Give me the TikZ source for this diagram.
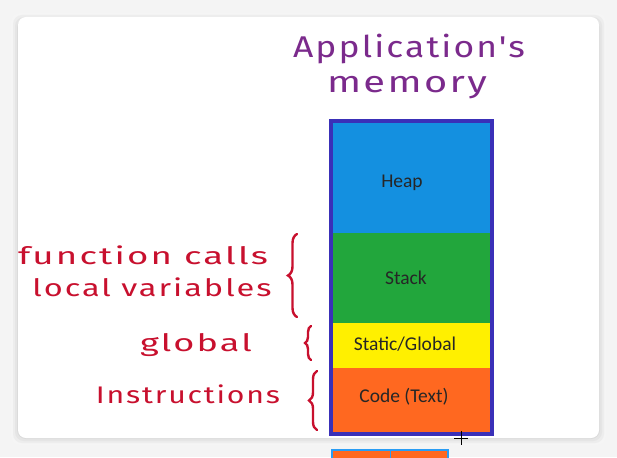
\documentclass[tikz,border=0pt]{standalone}
\usepackage{fontspec}
\usepackage{graphicx}
\setmainfont{Carlito}
\newfontfamily\hand[LetterSpace=6]{Fira Sans}
\usetikzlibrary{decorations.pathreplacing}
\definecolor{bgcol}{HTML}{F4F4F4}
\definecolor{framecol}{HTML}{3A30B8}
\definecolor{heapcol}{HTML}{1490E0}
\definecolor{stackcol}{HTML}{22A63C}
\definecolor{staticcol}{HTML}{FFF000}
\definecolor{codecol}{HTML}{FF6820}
\definecolor{purplehand}{HTML}{7B2A8C}
\definecolor{redhand}{HTML}{C8102E}
\definecolor{stripblue}{HTML}{2A9DF4}
\newcommand{\fitw}[2]{\resizebox{#1}{\height}{#2}}
\tikzset{
  seglabel/.style={font=\fontsize{19.5}{22}\selectfont, text=black!85, inner sep=0pt},
  titlehand/.style={font=\hand\fontsize{30}{34}\selectfont, text=purplehand, inner sep=0pt},
  notehand/.style={font=\hand\fontsize{24}{28}\selectfont, text=redhand, inner sep=0pt},
  handbrace/.style={draw=redhand, line width=2.4pt, line cap=round, decorate,
     decoration={brace, amplitude=#1}},
  handbrace/.default=8pt
}
\begin{document}
\begin{tikzpicture}[x=1pt,y=-1pt]
\useasboundingbox (0,0) rectangle (617,457);
% background and card
\fill[bgcol] (0,0) rectangle (617,457);
\foreach \d/\c in {7/4,5/7,3/10,1/14}{
  \fill[black!\c, rounded corners=9pt] (18-\d,17-\d+3) rectangle (599+\d,438+\d);
}
\fill[white, rounded corners=8pt] (18,17) rectangle (599,438);
% memory column
\fill[heapcol]   (333,123) rectangle (490,233);
\fill[stackcol]  (333,233) rectangle (490,323);
\fill[staticcol] (333,323) rectangle (490,368);
\fill[codecol]   (333,368) rectangle (490,432);
\draw[framecol, line width=4.5pt] (331,121) rectangle (492,434);
\node[seglabel] (heap)   at (402,183) {Heap};
\node[seglabel] (stack)  at (406,278) {Stack};
\node[seglabel] (static) at (405,344) {Static/Global};
\node[seglabel] (code)   at (404,397) {Code (Text)};
% title
\node[titlehand] (t1) at (409,49) {\fitw{232pt}{Application's}};
\node[titlehand] (t2) at (407,88) {\fitw{160pt}{memory}};
% notes
\node[notehand] (n1) at (143,255) {\fitw{250pt}{function calls}};
\node[notehand] (n2) at (152,287) {\fitw{239pt}{local variables}};
\node[notehand] (n3) at (196,345) {\fitw{112pt}{global}};
\node[notehand] (n4) at (188,394) {\fitw{184pt}{Instructions}};
% braces
\coordinate (b1a) at (297,317); \coordinate (b1b) at (297,234);
\coordinate (b2a) at (311,360); \coordinate (b2b) at (311,326);
\coordinate (b3a) at (317,430); \coordinate (b3b) at (317,371);
\draw[handbrace=9pt] (b1a) -- (b1b);
\draw[handbrace=6pt] (b2a) -- (b2b);
\draw[handbrace=8pt] (b3a) -- (b3b);
% bottom strip
\fill[codecol] (332,450) rectangle (448,460);
\draw[stripblue, line width=1.5pt] (332,460) -- (332,450) -- (448,450) -- (448,460);
\draw[stripblue, line width=1pt] (390,450) -- (390,460);
% cursor
\draw[black, line width=0.8pt] (454,438) -- (468,438) (461,431) -- (461,445);
\end{tikzpicture}
\end{document}
